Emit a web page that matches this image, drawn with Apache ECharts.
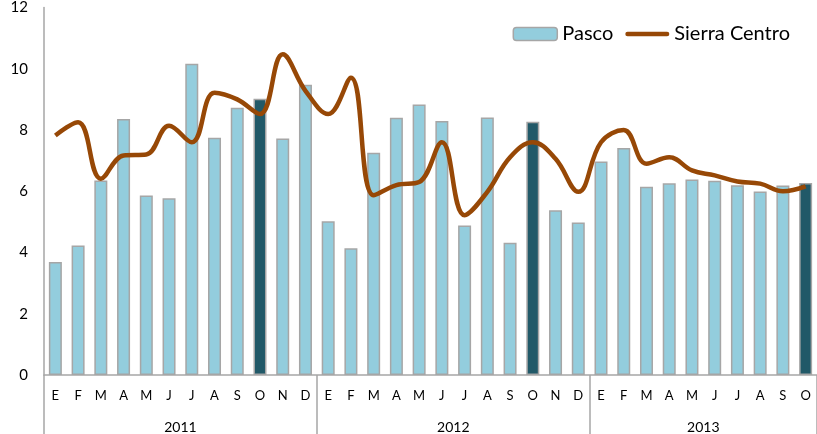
<!DOCTYPE html>
<html>
<head>
<meta charset="utf-8">
<script src="https://cdn.jsdelivr.net/npm/echarts@6/dist/echarts.min.js"></script>
<style>
  html, body { margin: 0; padding: 0; background: #fff; }
  #chart { width: 817px; height: 434px; }
</style>
</head>
<body>
<div id="chart"></div>
<script>
  // meses (E = enero ...) y años
  const months = [
    'E','F','M','A','M','J','J','A','S','O','N','D',
    'E','F','M','A','M','J','J','A','S','O','N','D',
    'E','F','M','A','M','J','J','A','S','O'
  ];
  const years = ['2011', '2012', '2013'];
  const yearStart = [0, 12, 24];

  const pasco = [
    3.69, 4.23, 6.35, 8.36, 5.86, 5.77, 10.16, 7.75, 8.73, 9.02, 7.72, 9.48,
    5.02, 4.14, 7.26, 8.40, 8.83, 8.29, 4.88, 8.41, 4.32, 8.27, 5.38, 4.98,
    6.97, 7.41, 6.15, 6.26, 6.38, 6.34, 6.20, 5.99, 6.19, 6.27
  ];
  const sierraCentro = [
    7.82, 8.25, 6.41, 7.17, 7.20, 8.14, 7.60, 9.22, 9.00, 8.52, 10.47, 9.28,
    8.52, 9.71, 5.87, 6.20, 6.30, 7.60, 5.22, 5.98, 7.11, 7.60, 7.06, 5.98,
    7.60, 8.00, 6.90, 7.11, 6.68, 6.52, 6.32, 6.25, 6.00, 6.16
  ];
  // octubres resaltados
  const highlight = [9, 21, 33];

  const light = '#93cddd';
  const dark = '#215968';
  const border = '#a6a6a6';
  const lineColor = '#974806';
  const font = 'Lato';

  const chart = echarts.init(document.getElementById('chart'));

  // eje de años: una etiqueta por año, centrada en su bloque de meses
  const yearData = months.map(() => '');
  years.forEach((y, k) => {
    const n = (k < years.length - 1 ? yearStart[k + 1] : months.length) - yearStart[k];
    const idx = yearStart[k] + Math.floor((n - 1) / 2);
    yearData[idx] = {
      value: y,
      textStyle: { padding: n % 2 === 0 ? [0, 0, 0, 22.8] : 0 }
    };
  });

  const option = {
    animation: false,
    legend: {
      right: 22,
      top: 19,
      itemWidth: 44,
      itemHeight: 13,
      itemGap: 12,
      textStyle: { fontFamily: font, fontSize: 20, color: '#000' },
      data: [
        { name: 'Pasco', itemStyle: { color: light, borderColor: border, borderWidth: 1.5 } },
        {
          name: 'Sierra Centro',
          icon: 'path://M5,0 H95 A5,5 0 0 1 95,10 H5 A5,5 0 0 1 5,0 Z',
          itemStyle: { color: lineColor, borderWidth: 0 }
        }
      ]
    },
    grid: { left: 44, top: 6, width: 775.2, height: 370 },
    xAxis: [
      {
        type: 'category',
        data: months,
        axisLine: { lineStyle: { color: border, width: 1.5 } },
        axisTick: { show: false },
        axisLabel: { interval: 0, margin: 14, fontFamily: font, fontSize: 13, color: '#000' }
      },
      {
        type: 'category',
        data: yearData,
        position: 'bottom',
        axisLine: { show: false },
        axisTick: {
          show: true,
          length: 60,
          interval: (i) => yearStart.indexOf(i) >= 0,
          lineStyle: { color: border, width: 1.5 }
        },
        axisLabel: { interval: 0, margin: 45, fontFamily: font, fontSize: 14, color: '#000' }
      }
    ],
    yAxis: {
      type: 'value',
      min: 0,
      max: 12,
      interval: 2,
      axisLine: { show: true, lineStyle: { color: border, width: 1.5 } },
      axisTick: { show: false },
      splitLine: { show: false },
      axisLabel: { margin: 16, fontFamily: font, fontSize: 15, color: '#000' }
    },
    series: [
      {
        name: 'Pasco',
        type: 'bar',
        barWidth: 13,
        data: pasco.map((v, i) => ({
          value: v,
          itemStyle: { color: highlight.indexOf(i) >= 0 ? dark : light }
        })),
        itemStyle: { color: light, borderColor: border, borderWidth: 1.5 }
      },
      {
        name: 'Sierra Centro',
        type: 'line',
        smooth: 0.4,
        symbol: 'none',
        data: sierraCentro,
        itemStyle: { color: lineColor },
        lineStyle: { color: lineColor, width: 4.5 }
      }
    ]
  };

  chart.setOption(option);
</script>
</body>
</html>
